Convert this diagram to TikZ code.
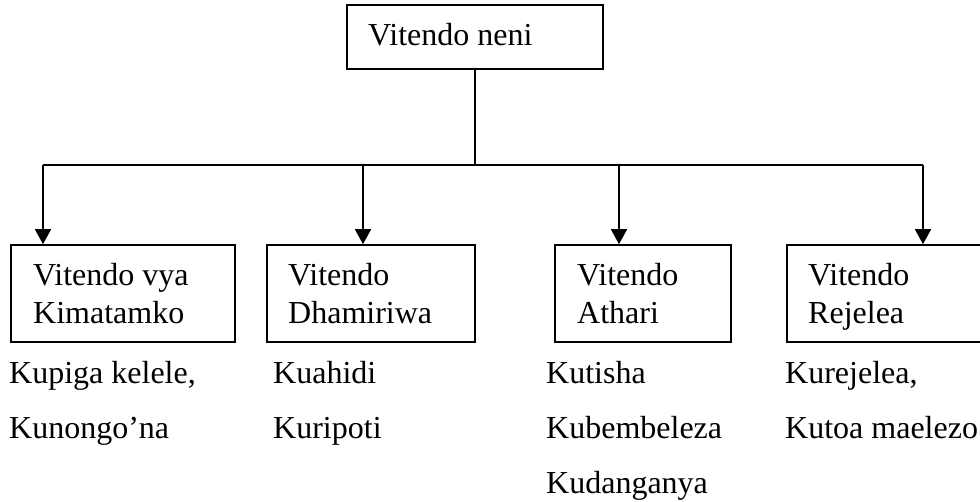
\documentclass[tikz,border=0pt]{standalone}
\usepackage{fontspec}
\setmainfont{Liberation Serif}
\usetikzlibrary{arrows.meta}
\begin{document}
\begin{tikzpicture}[x=1pt,y=-1pt,
  box/.style={draw,line width=1.6pt,rectangle,inner sep=0pt},
  txt/.style={anchor=base west,inner sep=0pt,font=\fontsize{32}{38}\selectfont},
  conn/.style={line width=1.6pt},
  arr/.style={line width=1.6pt,-{Triangle[width=16pt,length=15pt]}}]
\useasboundingbox (0,0) rectangle (980,501);
% boxes
\node[box,minimum width=256pt,minimum height=64pt] (top) at (475,37) {};
\node[box,minimum width=224pt,minimum height=97pt] (b1) at (123,293.5) {};
\node[box,minimum width=208pt,minimum height=97pt] (b2) at (371,293.5) {};
\node[box,minimum width=176pt,minimum height=97pt] (b3) at (643,293.5) {};
\node[box,minimum width=196pt,minimum height=97pt] (b4) at (885,293.5) {};
% box texts
\node[txt] (t0) at (368,45) {Vitendo neni};
\node[txt] (t1a) at (33,285) {Vitendo vya};
\node[txt] (t1b) at (33,323) {Kimatamko};
\node[txt] (t2a) at (288,285) {Vitendo};
\node[txt] (t2b) at (288,323) {Dhamiriwa};
\node[txt] (t3a) at (577,285) {Vitendo};
\node[txt] (t3b) at (577,323) {Athari};
\node[txt] (t4a) at (808,285) {Vitendo};
\node[txt] (t4b) at (808,323) {Rejelea};
% lists
\node[txt] (l1a) at (9,383) {Kupiga kelele,};
\node[txt] (l1b) at (9,438) {Kunongo’na};
\node[txt] (l2a) at (273,383) {Kuahidi};
\node[txt] (l2b) at (273,438) {Kuripoti};
\node[txt] (l3a) at (546,383) {Kutisha};
\node[txt] (l3b) at (546,438) {Kubembeleza};
\node[txt] (l3c) at (546,493) {Kudanganya};
\node[txt] (l4a) at (785,383) {Kurejelea,};
\node[txt] (l4b) at (785,438) {Kutoa maelezo};
% connectors
\coordinate (j) at (475,165);
\coordinate (c1) at (43,165);
\coordinate (c2) at (363,165);
\coordinate (c3) at (619,165);
\coordinate (c4) at (923,165);
\draw[conn] (top.south) -- (j);
\draw[conn] (c1) -- (c4);
\draw[arr] (c1) -- (c1 |- b1.north);
\draw[arr] (c2) -- (c2 |- b2.north);
\draw[arr] (c3) -- (c3 |- b3.north);
\draw[arr] (c4) -- (c4 |- b4.north);
\end{tikzpicture}
\end{document}
